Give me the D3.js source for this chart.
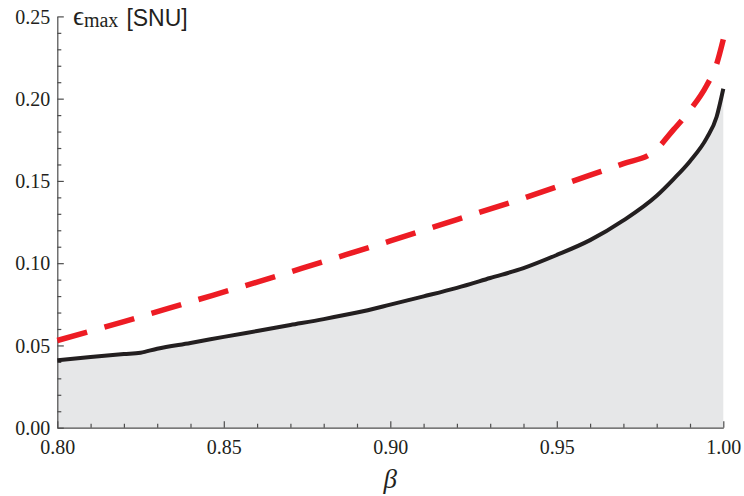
<!DOCTYPE html>
<html>
<head>
<meta charset="utf-8">
<script src="https://cdn.jsdelivr.net/npm/d3@7"></script>
<style>
  body { margin: 0; background: #fff; }
  svg { display: block; }
  .axis path, .axis line { stroke: #4d4d4d; stroke-width: 1.2; }
</style>
</head>
<body>
<div id="chart"></div>
<script>
// --- Data ---
const betaSolid = [0.80, 0.81, 0.82, 0.825, 0.83, 0.84, 0.85, 0.86, 0.87, 0.88, 0.89, 0.90,
  0.91, 0.92, 0.93, 0.94, 0.95, 0.96, 0.97, 0.98, 0.985, 0.99, 0.995, 0.998, 1.00];
const epsSolid = [0.041, 0.043, 0.0448, 0.0456, 0.048, 0.0515, 0.0552, 0.0588, 0.0624, 0.066, 0.070, 0.0748,
  0.0798, 0.085, 0.091, 0.097, 0.105, 0.114, 0.126, 0.141, 0.151, 0.162, 0.176, 0.189, 0.206];

const betaDashed = [0.80, 0.82, 0.84, 0.86, 0.88, 0.90, 0.92, 0.94, 0.96, 0.97, 0.979,
  0.985, 0.99, 0.995, 0.998, 1.00];
const epsDashed = [0.053, 0.0645, 0.0765, 0.0885, 0.101, 0.1135, 0.1265, 0.1395, 0.1535, 0.1605, 0.1675,
  0.181, 0.193, 0.208, 0.221, 0.236];

const xMajor = [0.80, 0.85, 0.90, 0.95, 1.00];
const yMajor = [0.00, 0.05, 0.10, 0.15, 0.20, 0.25];

const SERIF = '"Liberation Serif", "Times New Roman", serif';
const SANS = '"Liberation Sans", Arial, sans-serif';

// --- Setup ---
const width = 744, height = 496;
const svg = d3.select('#chart').append('svg')
  .attr('width', width)
  .attr('height', height);

const x = d3.scaleLinear().domain([0.80, 1.00]).range([57.3, 723.3]);
const y = d3.scaleLinear().domain([0, 0.25]).range([427.7, 16.4]);

const solid = betaSolid.map((b, i) => ({ b, e: epsSolid[i] }));
const dashed = betaDashed.map((b, i) => ({ b, e: epsDashed[i] }));

// shaded region under the solid curve
svg.append('path')
  .datum(solid)
  .attr('fill', '#e6e7e8')
  .attr('d', d3.area().x(d => x(d.b)).y0(y(0)).y1(d => y(d.e)).curve(d3.curveMonotoneX));

// minor ticks (every 0.01)
const xMinor = d3.range(0.80, 1.0001, 0.01).filter(v => !xMajor.some(m => Math.abs(m - v) < 1e-6));
const yMinor = d3.range(0, 0.2501, 0.01).filter(v => !yMajor.some(m => Math.abs(m - v) < 1e-6));

svg.append('g').attr('class', 'axis')
  .attr('transform', `translate(0,${y(0)})`)
  .call(d3.axisBottom(x).tickValues(xMinor).tickSize(-4).tickSizeOuter(0).tickFormat(''))
  .call(g => g.select('.domain').remove());

svg.append('g').attr('class', 'axis')
  .attr('transform', `translate(${x(0.80)},0)`)
  .call(d3.axisLeft(y).tickValues(yMinor).tickSize(-4).tickSizeOuter(0).tickFormat(''))
  .call(g => g.select('.domain').remove());

// major axes
svg.append('g').attr('class', 'axis')
  .attr('transform', `translate(0,${y(0)})`)
  .call(d3.axisBottom(x).tickValues(xMajor).tickSize(-6.5).tickSizeOuter(0).tickFormat(d3.format('.2f')))
  .attr('font-family', SERIF).attr('font-size', 20)
  .call(g => g.selectAll('.tick text').attr('y', 12).attr('dy', '0.71em').attr('fill', '#231f20'));

svg.append('g').attr('class', 'axis')
  .attr('transform', `translate(${x(0.80)},0)`)
  .call(d3.axisLeft(y).tickValues(yMajor).tickSize(-6.5).tickSizeOuter(0).tickFormat(d3.format('.2f')))
  .attr('font-family', SERIF).attr('font-size', 20)
  .call(g => g.selectAll('.tick text').attr('x', -7).attr('dy', '0.34em').attr('fill', '#231f20'));

// curves
svg.append('path')
  .datum(dashed)
  .attr('fill', 'none')
  .attr('stroke', '#ed1c24')
  .attr('stroke-width', 5.5)
  .attr('stroke-dasharray', '31,18')
  .attr('d', d3.line().x(d => x(d.b)).y(d => y(d.e)).curve(d3.curveMonotoneX));

svg.append('path')
  .datum(solid)
  .attr('fill', 'none')
  .attr('stroke', '#231f20')
  .attr('stroke-width', 4)
  .attr('d', d3.line().x(d => x(d.b)).y(d => y(d.e)).curve(d3.curveMonotoneX));

// axis titles
const yTitle = svg.append('text')
  .attr('x', 73)
  .attr('y', 25)
  .attr('fill', '#231f20');
yTitle.append('tspan')
  .attr('font-family', SERIF)
  .attr('font-size', 27)
  .text('ϵ');
yTitle.append('tspan')
  .attr('font-family', SERIF)
  .attr('font-size', 20)
  .attr('dy', 1.5)
  .text('max');
yTitle.append('tspan')
  .attr('font-family', SANS)
  .attr('font-size', 23)
  .attr('dx', 8)
  .attr('dy', -1)
  .text('[SNU]');

svg.append('text')
  .attr('x', x(0.90))
  .attr('y', 488)
  .attr('text-anchor', 'middle')
  .attr('font-family', SERIF)
  .attr('font-style', 'italic')
  .attr('font-size', 27)
  .attr('fill', '#231f20')
  .text('β');
</script>
</body>
</html>
